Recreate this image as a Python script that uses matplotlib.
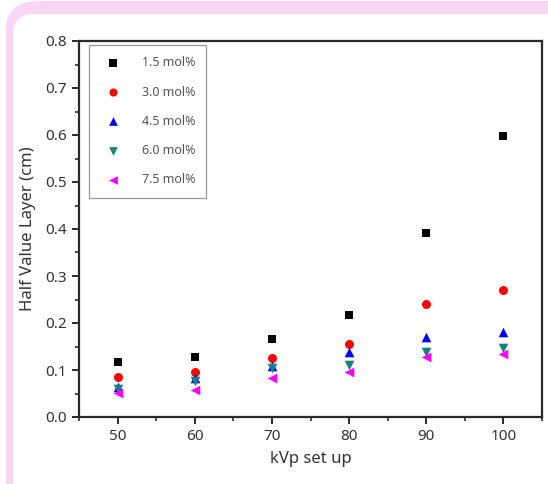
import numpy as np
from matplotlib import pyplot as plt
from matplotlib.patches import FancyBboxPatch
from matplotlib.ticker import MultipleLocator

kvp = [50, 60, 70, 80, 90, 100]
labels = ["1.5 mol%", "3.0 mol%", "4.5 mol%", "6.0 mol%", "7.5 mol%"]
hvl_15 = [0.117, 0.128, 0.166, 0.218, 0.391, 0.598]
hvl_30 = [0.086, 0.096, 0.125, 0.156, 0.240, 0.270]
hvl_45 = [0.064, 0.083, 0.109, 0.138, 0.170, 0.180]
hvl_60 = [0.060, 0.077, 0.104, 0.110, 0.139, 0.146]
hvl_75 = [0.052, 0.057, 0.084, 0.096, 0.128, 0.133]

series = [hvl_15, hvl_30, hvl_45, hvl_60, hvl_75]
markers = ["s", "o", "^", "v", "<"]
colors = ["#000000", "#ff0000", "#0000ff", "#1a8080", "#ff00ff"]
sizes = [34, 42, 48, 48, 48]

W, H = 548, 484
fig = plt.figure(figsize=(W / 100, H / 100), dpi=100)

# pink rounded frame behind the chart
outer = FancyBboxPatch((6 / W, -0.2), 1.2, 1.2 - 1 / H,
                       boxstyle="round,pad=0,rounding_size=0.06",
                       transform=fig.transFigure, facecolor="#fbd5f6",
                       edgecolor="none", zorder=-5)
inner = FancyBboxPatch((13 / W, -0.2), 1.2, 1.2 - 14 / H,
                       boxstyle="round,pad=0,rounding_size=0.04",
                       transform=fig.transFigure, facecolor="white",
                       edgecolor="none", zorder=-4)
fig.patches.extend([outer, inner])

ax = fig.add_axes([79 / W, 67 / H, 463 / W, 376 / H])
ax.set_facecolor("none")

for vals, m, c, s, lab in zip(series, markers, colors, sizes, labels):
    ax.scatter(kvp, vals, marker=m, s=s, color=c, label=lab, linewidths=0, zorder=3)

ax.set_xlim(45, 105)
ax.set_ylim(0.0, 0.8)
ax.xaxis.set_major_locator(MultipleLocator(10))
ax.xaxis.set_minor_locator(MultipleLocator(5))
ax.yaxis.set_major_locator(MultipleLocator(0.1))
ax.yaxis.set_minor_locator(MultipleLocator(0.05))
ax.yaxis.set_major_formatter(plt.FormatStrFormatter("%.1f"))

for sp in ax.spines.values():
    sp.set_linewidth(1.6)
    sp.set_color("#2a2a2a")
ax.tick_params(which="major", direction="out", length=5, width=1.4,
               colors="#2a2a2a", labelsize=11, top=False, right=False)
ax.tick_params(which="minor", direction="out", length=3, width=1.2,
               colors="#2a2a2a", top=False, right=False)
for t in ax.get_xticklabels() + ax.get_yticklabels():
    t.set_fontfamily("Noto Sans")
    t.set_color("#333333")

ax.set_xlabel("kVp set up", fontsize=12, color="#333333", family="Noto Sans", labelpad=5)
ax.set_ylabel("Half Value Layer (cm)", fontsize=12, color="#333333", family="Noto Sans", labelpad=7)

leg = ax.legend(loc="upper left", bbox_to_anchor=(10 / 463, 1 - 4 / 376),
                fancybox=False, edgecolor="#999999", framealpha=1,
                prop={"family": "Noto Sans", "size": 9}, labelspacing=1.3,
                handletextpad=1.3, borderpad=0.9, borderaxespad=0, markerscale=0.9)
leg.get_frame().set_linewidth(0.9)
for t in leg.get_texts():
    t.set_color("#555555")

fig.savefig("out.png", dpi=100)
